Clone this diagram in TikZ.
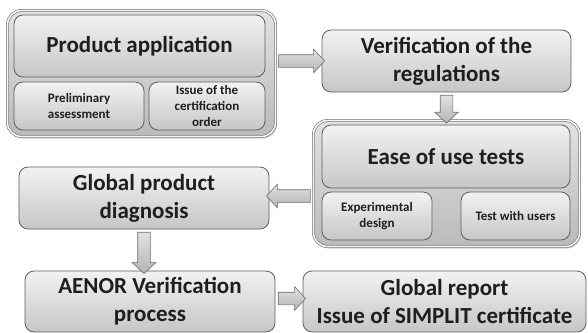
\documentclass[tikz,border=0pt]{standalone}
\usepackage{fontspec}
\setmainfont{Carlito}
\usetikzlibrary{shapes.arrows,shadows,calc}
\definecolor{txt}{HTML}{1E1E1E}
\definecolor{edge}{HTML}{5E5E5E}
\definecolor{boxtop}{HTML}{F2F2F2}
\definecolor{boxbot}{HTML}{C6C6C6}
\definecolor{contop}{HTML}{E2E2E2}
\definecolor{conbot}{HTML}{BABABA}
\definecolor{arrtop}{HTML}{E2E2E2}
\definecolor{arrbot}{HTML}{B4B4B4}
\begin{document}
\begin{tikzpicture}[x=1pt,y=-1pt,
  softshadow/.style={drop shadow={shadow xshift=1.5pt,shadow yshift=-2pt,opacity=0.35}},
  container/.style={draw=edge!90!white, line width=0.6pt, double=white!93!gray,
    double distance=1.6pt, rounded corners=14pt,
    top color=contop, bottom color=conbot, softshadow, inner sep=0pt},
  stepbox/.style={draw=edge, line width=0.8pt, rounded corners=9pt,
    top color=boxtop, bottom color=boxbot, text=txt, align=center,
    inner sep=2pt, font=\bfseries\fontsize{23}{28}\selectfont},
  subbox/.style={stepbox, font=\bfseries\fontsize{13}{16}\selectfont},
  blockarrow/.style={single arrow, draw=gray!85!black, line width=0.6pt,
    top color=arrtop, bottom color=arrbot, inner sep=0pt, minimum width=23pt,
    single arrow head extend=5.5pt, single arrow tip angle=95, outer sep=0pt,
    text height=12pt}]
\useasboundingbox (0,0) rectangle (588,332);

% first group: application and its two sub-steps
\node[container, minimum width=268pt, minimum height=126pt] (c1) at (141.5,73.5) {};
\node[stepbox, minimum width=251pt, minimum height=62pt] (pa) at (139.5,46) {Product application};
\node[subbox, minimum width=130pt, minimum height=48pt] (pre) at (79,106) {Preliminary\\assessment};
\node[subbox, minimum width=116pt, minimum height=48pt] (iss) at (207,106) {Issue of the\\certification\\order};

% regulation check
\node[stepbox, minimum width=249pt, minimum height=62pt] (ver) at (446.5,61) {Verification of the\\regulations};

% second group: usability tests
\node[container, minimum width=266pt, minimum height=126pt] (c2) at (446.5,183.5) {};
\node[stepbox, minimum width=248pt, minimum height=63pt] (ease) at (446,156.5) {Ease of use tests};
\node[subbox, minimum width=110pt, minimum height=48pt] (exp) at (377,216) {Experimental\\design};
\node[subbox, minimum width=109pt, minimum height=48pt] (usr) at (515.5,216) {Test with users};

% diagnosis and final steps
\node[stepbox, minimum width=250pt, minimum height=62pt] (gpd) at (144,198) {Global product\\diagnosis};
\node[stepbox, minimum width=250pt, minimum height=61pt] (aen) at (150,301.5) {AENOR Verification\\process};
\node[stepbox, minimum width=283pt, minimum height=61pt] (gr) at (444.5,301.5) {Global report\\Issue of SIMPLIT certificate};

% block arrows between the steps
\path let \p1=($(ver.west)-(c1.east|-ver.west)$), \n1={veclen(\x1,\y1)} in
  ($(c1.east|-ver.west)!0.5!(ver.west)$) node[blockarrow, minimum height=\n1] (a1) {};
\path let \p1=($(c2.north)-(ver.south)$), \n1={veclen(\x1,\y1)} in
  ($(ver.south)!0.5!(c2.north)$) node[blockarrow, rotate=-90, minimum height=\n1] (a2) {};
\coordinate (a3s) at ($(c2.west)+(0,12.5)$);
\path let \p1=($(a3s)-(gpd.east|-a3s)$), \n1={veclen(\x1,\y1)} in
  ($(a3s)!0.5!(gpd.east|-a3s)$) node[blockarrow, rotate=180, minimum height=\n1] (a3) {};
\path let \p1=($(aen.north-|gpd.south)-(gpd.south)$), \n1={veclen(\x1,\y1)} in
  ($(gpd.south)!0.5!(aen.north-|gpd.south)$) node[blockarrow, rotate=-90, minimum height=\n1] (a4) {};
\coordinate (a5s) at ($(aen.east)+(0,-3)$);
\path let \p1=($(gr.west|-a5s)-(a5s)$), \n1={veclen(\x1,\y1)} in
  ($(a5s)!0.5!(gr.west|-a5s)$) node[blockarrow, minimum height=\n1] (a5) {};
\end{tikzpicture}
\end{document}
